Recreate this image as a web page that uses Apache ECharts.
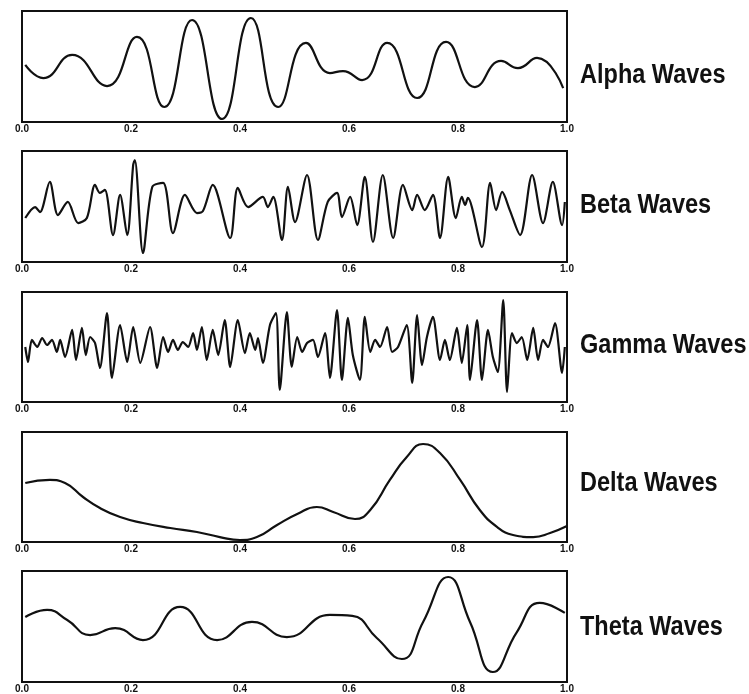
<!DOCTYPE html>
<html>
<head>
<meta charset="utf-8">
<script src="https://cdn.jsdelivr.net/npm/echarts@6/dist/echarts.min.js"></script>
<style>
html,body{margin:0;padding:0;background:#fff;}
#chart{width:749px;height:694px;}
</style>
</head>
<body>
<div id="chart"></div>
<script>
// time axis (s) and tick labels
const xTicks = [0.0, 0.2, 0.4, 0.6, 0.8, 1.0];
const waveNames = ['Alpha Waves', 'Beta Waves', 'Gamma Waves', 'Delta Waves', 'Theta Waves'];

// [time, amplitude (relative, 0..100)]
const alphaData = [[0.006,51.4],[0.039,39.6],[0.092,60.4],[0.156,32.4],[0.211,76.6],[0.261,13.5],[0.312,91.9],[0.367,2.7],[0.420,93.7],[0.470,13.5],[0.521,71.2],[0.565,44.1],[0.589,45.9],[0.624,37.8],[0.670,71.2],[0.725,21.6],[0.778,72.1],[0.831,31.5],[0.879,55.0],[0.910,48.6],[0.945,57.7],[0.993,30.6]];

const betaData = [[0.006,39.6],[0.024,49.5],[0.033,45.0],[0.051,72.1],[0.066,42.3],[0.084,54.1],[0.103,35.1],[0.119,39.6],[0.134,69.4],[0.143,62.2],[0.152,64.9],[0.167,24.3],[0.180,60.4],[0.193,24.3],[0.204,87.4],[0.207,91.9],[0.222,8.1],[0.239,67.6],[0.259,71.2],[0.277,26.1],[0.299,60.4],[0.321,44.1],[0.332,45.9],[0.350,69.4],[0.382,21.6],[0.396,66.7],[0.415,49.5],[0.442,58.6],[0.451,49.5],[0.461,58.6],[0.477,19.8],[0.488,67.6],[0.501,36.0],[0.523,78.4],[0.543,19.8],[0.561,54.1],[0.578,62.2],[0.587,40.5],[0.602,58.6],[0.615,33.3],[0.629,76.6],[0.644,18.0],[0.662,78.4],[0.681,21.6],[0.699,69.4],[0.716,46.8],[0.725,60.4],[0.739,46.8],[0.754,60.4],[0.767,21.6],[0.782,76.6],[0.796,39.6],[0.807,58.6],[0.813,51.4],[0.818,57.7],[0.844,13.5],[0.859,71.2],[0.870,46.8],[0.881,63.1],[0.895,46.8],[0.914,24.3],[0.936,78.4],[0.956,35.1],[0.974,72.1],[0.991,33.3],[0.996,54.1]];

const gammaData = [[0.006,50.0],[0.011,36.4],[0.018,56.4],[0.028,50.0],[0.037,58.2],[0.046,51.8],[0.055,56.4],[0.064,45.5],[0.070,56.4],[0.079,40.9],[0.092,65.5],[0.099,38.2],[0.110,67.3],[0.117,42.7],[0.125,59.1],[0.134,53.6],[0.143,30.9],[0.156,80.9],[0.165,21.8],[0.180,70.0],[0.193,36.4],[0.204,68.2],[0.217,35.5],[0.235,68.2],[0.248,30.9],[0.259,59.1],[0.268,45.5],[0.277,56.4],[0.286,47.3],[0.295,54.5],[0.305,50.0],[0.314,62.7],[0.321,47.3],[0.330,68.2],[0.339,38.2],[0.350,65.5],[0.360,42.7],[0.372,74.5],[0.382,31.8],[0.396,74.5],[0.409,44.5],[0.418,62.7],[0.428,47.3],[0.433,58.2],[0.442,35.5],[0.455,70.0],[0.466,80.9],[0.473,10.9],[0.486,81.8],[0.495,31.8],[0.505,59.1],[0.514,45.5],[0.523,53.6],[0.534,56.4],[0.543,40.9],[0.556,62.7],[0.565,21.8],[0.578,83.6],[0.587,20.0],[0.598,76.4],[0.607,42.7],[0.620,20.0],[0.629,77.3],[0.639,45.5],[0.648,56.4],[0.657,50.0],[0.670,68.2],[0.679,45.5],[0.690,50.0],[0.706,70.0],[0.716,17.3],[0.725,79.1],[0.734,33.6],[0.743,59.1],[0.754,77.3],[0.767,38.2],[0.776,56.4],[0.785,38.2],[0.798,67.3],[0.807,35.5],[0.817,70.0],[0.822,20.0],[0.835,74.5],[0.844,20.0],[0.855,65.5],[0.864,40.9],[0.873,27.3],[0.883,92.7],[0.890,9.1],[0.899,62.7],[0.908,53.6],[0.917,59.1],[0.927,38.2],[0.938,67.3],[0.947,38.2],[0.956,56.4],[0.965,50.0],[0.978,71.8],[0.991,26.4],[0.996,50.0]];

const deltaData = [[0.006,53.6],[0.051,56.4],[0.079,53.6],[0.112,40.9],[0.143,30.9],[0.180,22.7],[0.222,17.3],[0.272,12.7],[0.321,9.1],[0.363,4.5],[0.400,1.8],[0.431,4.5],[0.468,15.5],[0.505,25.5],[0.541,31.8],[0.571,27.3],[0.611,20.9],[0.639,29.1],[0.675,56.4],[0.706,77.3],[0.736,89.1],[0.767,80.9],[0.804,56.4],[0.840,29.1],[0.872,13.6],[0.901,6.4],[0.938,4.5],[0.969,8.2],[1.0,14.5]];

const thetaData = [[0.006,58.6],[0.046,64.9],[0.083,55.9],[0.125,42.3],[0.171,48.6],[0.222,37.8],[0.290,67.6],[0.358,37.8],[0.422,54.1],[0.486,40.5],[0.565,60.4],[0.606,59.5],[0.651,39.6],[0.697,20.7],[0.736,54.1],[0.782,94.6],[0.822,54.1],[0.864,9.0],[0.908,45.0],[0.950,71.2],[0.996,62.2]];

const waves = [alphaData, betaData, gammaData, deltaData, thetaData];
const smoothness = [0.5, 0.3, 0.25, 0.5, 0.5];

const panelTops = [11, 151, 292, 432, 571];
const panelHeights = [111, 111, 110, 110, 111];
const labelY = [75, 205, 345, 483, 627];

const chart = echarts.init(document.getElementById('chart'), null, {renderer: 'canvas'});

const grids = [], xAxes = [], yAxes = [], series = [], graphics = [];
waves.forEach((d, i) => {
  grids.push({left: 22, width: 545, top: panelTops[i], height: panelHeights[i],
    show: true, borderColor: '#111', borderWidth: 2, backgroundColor: 'transparent'});
  xAxes.push({type: 'value', gridIndex: i, min: 0, max: 1, interval: 0.2,
    axisLine: {show: false}, axisTick: {show: false}, splitLine: {show: false},
    axisLabel: {margin: 2, fontSize: 10, fontWeight: 'bold', color: '#111',
      fontFamily: 'Liberation Sans, Arial, sans-serif',
      formatter: v => v.toFixed(1)}});
  yAxes.push({type: 'value', gridIndex: i, min: 0, max: 100, show: false});
  series.push({type: 'line', xAxisIndex: i, yAxisIndex: i, data: d,
    showSymbol: false, smooth: smoothness[i], animation: false,
    lineStyle: {color: '#111', width: 2.2}});
  graphics.push({type: 'text', x: 580, y: labelY[i], scaleX: 0.84, scaleY: 1,
    style: {text: waveNames[i], fill: '#111', verticalAlign: 'middle', align: 'left',
      font: 'bold 28px "Liberation Sans", Arial, sans-serif'}});
});

chart.setOption({
  animation: false,
  backgroundColor: '#fff',
  grid: grids, xAxis: xAxes, yAxis: yAxes, series: series, graphic: graphics
});
</script>
</body>
</html>
